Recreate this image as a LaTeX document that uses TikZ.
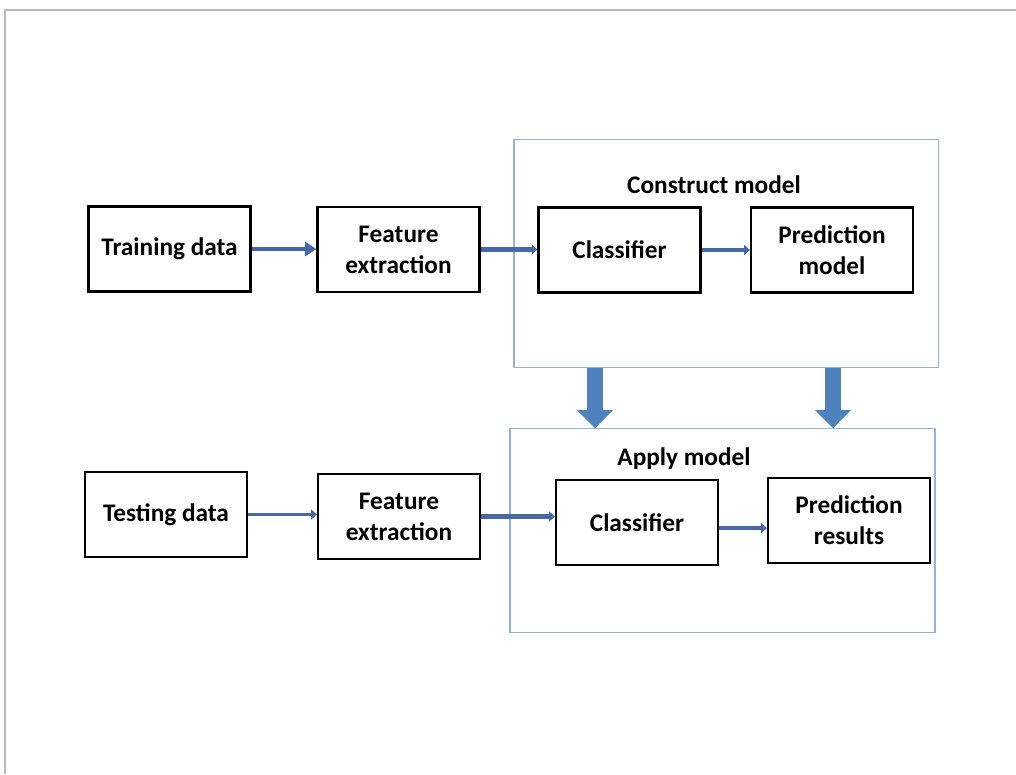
\documentclass[tikz,border=0pt]{standalone}
\usepackage{fontspec}
\setmainfont{Carlito}
\usetikzlibrary{arrows.meta,positioning,calc}

\definecolor{linkblue}{RGB}{70,105,165}
\definecolor{bigblue}{RGB}{79,129,189}
\definecolor{framblue}{RGB}{150,180,215}

\tikzset{
    block/.style={draw, line width=1.6pt, minimum width=4.05cm, minimum height=2.12cm,
        align=center, font=\bfseries\fontsize{18}{22}\selectfont, inner sep=0pt},
    modelframe/.style={draw=framblue, line width=0.8pt, inner sep=0pt},
    link/.style={draw=linkblue, line width=3.2pt, -{Triangle[length=4pt,width=7pt]}},
    biglink/.style={draw=bigblue, line width=11pt, -{Triangle[length=13pt,width=25pt]}},
    title/.style={font=\bfseries\fontsize{18}{22}\selectfont}
}

\begin{document}
\begin{tikzpicture}[x=0.025cm, y=-0.025cm]
    \useasboundingbox (0,0) rectangle (1016,774);
    \fill[white] (0,0) rectangle (1016,774);

    % outer page edge
    \draw[gray!55, line width=1.6pt] (1016,10) -- (5,10) -- (5,774);

    % model frames
    \node[modelframe, minimum width=10.6cm, minimum height=5.72cm] (cmframe) at (726,253.5) {};
    \node[modelframe, minimum width=10.62cm, minimum height=5.08cm] (amframe) at (722.5,530.5) {};
    \node[title] (cmtitle) at (714,185) {Construct model};
    \node[title] (amtitle) at (684,459) {Apply model};

    % training row
    \node[block] (train) at (169.5,249) {Training data};
    \node[block] (featA) at (398.5,249.5) {Feature\\extraction};
    \node[block] (clsA) at (619.5,250) {Classifier};
    \node[block] (predM) at (832,250) {Prediction\\model};

    % testing row
    \node[block] (test) at (166,514.5) {Testing data};
    \node[block] (featB) at (399,516.5) {Feature\\extraction};
    \node[block] (clsB) at (637,522.5) {Classifier};
    \node[block] (predR) at (849,520.5) {Prediction\\results};

    % connectors
    \draw[link, -{Triangle[length=8pt,width=10pt]}] (train.east) -- (train.east -| featA.west);
    \draw[link] (featA.east) -- (featA.east -| clsA.west);
    \draw[link] (clsA.east) -- (clsA.east -| predM.west);
    \draw[link, line width=2.6pt] (test.east) -- (test.east -| featB.west);
    \draw[link] (featB.east) -- (featB.east -| clsB.west);
    \draw[link] ([yshift=-4pt]clsB.east) -- ([yshift=-4pt]clsB.east -| predR.west);

    % model handed down
    \draw[biglink] (595,0 |- cmframe.south) -- (595,0 |- amframe.north);
    \draw[biglink] (833,0 |- cmframe.south) -- (833,0 |- amframe.north);
\end{tikzpicture}
\end{document}
